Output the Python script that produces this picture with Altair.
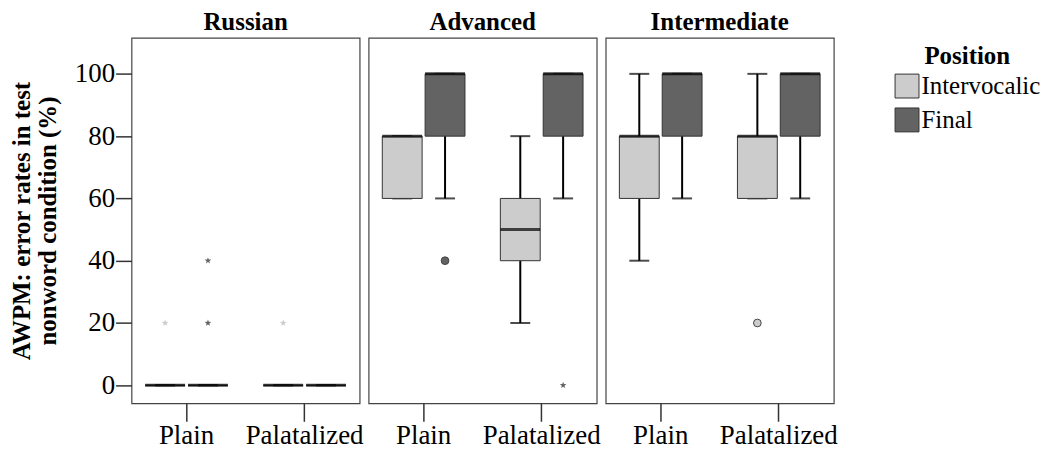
import altair as alt
import pandas as pd

groups = ["Russian", "Advanced", "Intermediate"]
conditions = ["Plain", "Palatalized"]
positions = ["Intervocalic", "Final"]
position_colors = ["#cccccc", "#636363"]

# box summaries (group x condition x position)
box_group = ["Russian"] * 4 + ["Advanced"] * 4 + ["Intermediate"] * 4
box_condition = ["Plain", "Plain", "Palatalized", "Palatalized"] * 3
box_position = ["Intervocalic", "Final"] * 6
whisker_low = [0, 0, 0, 0, 60, 60, 20, 60, 40, 60, 60, 60]
q1 = [0, 0, 0, 0, 60, 80, 40, 80, 60, 80, 60, 80]
median = [0, 0, 0, 0, 80, 100, 50, 100, 80, 100, 80, 100]
q3 = [0, 0, 0, 0, 80, 100, 60, 100, 80, 100, 80, 100]
whisker_high = [0, 0, 0, 0, 80, 100, 80, 100, 100, 100, 100, 100]

# outliers (circles) and extremes (stars)
outlier_group = ["Russian", "Russian", "Russian", "Russian", "Advanced", "Advanced", "Intermediate"]
outlier_condition = ["Plain", "Plain", "Plain", "Palatalized", "Plain", "Palatalized", "Palatalized"]
outlier_position = ["Intervocalic", "Final", "Final", "Intervocalic", "Final", "Final", "Intervocalic"]
outlier_value = [20, 20, 40, 20, 40, 0, 20]
outlier_kind = ["extreme", "extreme", "extreme", "extreme", "outlier", "extreme", "outlier"]

boxes = pd.DataFrame({
    "group": box_group, "condition": box_condition, "position": box_position,
    "lo": whisker_low, "q1": q1, "median": median, "q3": q3, "hi": whisker_high,
})
outliers = pd.DataFrame({
    "group": outlier_group, "condition": outlier_condition, "position": outlier_position,
    "value": outlier_value, "kind": outlier_kind,
})

STAR = ("M0,-1L0.235,-0.324L0.951,-0.309L0.38,0.124L0.588,0.809L0,0.4"
        "L-0.588,0.809L-0.38,0.124L-0.951,-0.309L-0.235,-0.324Z")

FONT = "Liberation Serif"
Y_DOMAIN = [-5.8, 111.6]
W, H = 229, 367


def panel(g, first):
    bdf = boxes[boxes["group"] == g]
    odf = outliers[outliers["group"] == g]
    x = alt.X("condition:N", sort=conditions,
              scale=alt.Scale(paddingInner=0.2, paddingOuter=0.066),
              axis=alt.Axis(title=None, labelAngle=0, tickSize=18, tickColor="#333",
                            tickWidth=1.5, domain=False, labelFontSize=27,
                            labelPadding=1, labelColor="black", labelFont=FONT))
    xo = alt.XOffset("position:N", sort=positions,
                     scale=alt.Scale(paddingInner=0.07, paddingOuter=0.1375))
    yscale = alt.Scale(domain=Y_DOMAIN, nice=False, zero=False)
    if first:
        yaxis = alt.Axis(title=["AWPM: error rates in test", "nonword condition (%)"],
                         values=[0, 20, 40, 60, 80, 100], tickSize=16, tickColor="#333",
                         tickWidth=1.5, domain=False, grid=False, labelFontSize=27,
                         labelPadding=1, labelColor="black", labelFont=FONT,
                         titleFontSize=25, titleFont=FONT, titleFontWeight="bold",
                         titleColor="black", titlePadding=14, titleLineHeight=26)
    else:
        yaxis = None
    color_scale = alt.Scale(domain=positions, range=position_colors)

    base_b = alt.Chart(bdf)
    whisk = base_b.mark_rule(color="black", strokeWidth=2).encode(
        x=x, xOffset=xo, y=alt.Y("lo:Q", scale=yscale, axis=yaxis), y2="hi:Q")
    cap_lo = base_b.mark_tick(color="black", size=20, thickness=2).encode(
        x=x, xOffset=xo, y=alt.Y("lo:Q", scale=yscale, axis=yaxis))
    cap_hi = base_b.mark_tick(color="black", size=20, thickness=2).encode(
        x=x, xOffset=xo, y=alt.Y("hi:Q", scale=yscale, axis=yaxis))
    box = base_b.mark_bar(stroke="#333", strokeWidth=1, width=40).encode(
        x=x, xOffset=xo, y=alt.Y("q1:Q", scale=yscale, axis=yaxis), y2="q3:Q",
        color=alt.Color("position:N", sort=positions, scale=color_scale,
                        legend=alt.Legend(title="Position")))
    med = base_b.mark_tick(color="black", size=40, thickness=3).encode(
        x=x, xOffset=xo, y=alt.Y("median:Q", scale=yscale, axis=yaxis))

    base_o = alt.Chart(odf)
    circ = base_o.transform_filter(alt.datum.kind == "outlier").mark_point(
        shape="circle", filled=True, size=60, stroke="#444", strokeWidth=1, opacity=1
    ).encode(x=x, xOffset=xo, y=alt.Y("value:Q", scale=yscale, axis=yaxis),
             color=alt.Color("position:N", sort=positions, scale=color_scale, legend=None))
    star = base_o.transform_filter(alt.datum.kind == "extreme").mark_point(
        shape=STAR, filled=True, size=50, opacity=1
    ).encode(x=x, xOffset=xo, y=alt.Y("value:Q", scale=yscale, axis=yaxis),
             color=alt.Color("position:N", sort=positions, scale=color_scale, legend=None))

    return alt.layer(whisk, cap_lo, cap_hi, box, med, circ, star).properties(
        width=W, height=H,
        title=alt.TitleParams(g, fontSize=25, font=FONT, fontWeight="bold",
                              color="black", anchor="middle", offset=3))


chart = alt.hconcat(
    *[panel(g, i == 0) for i, g in enumerate(groups)], spacing=9, bounds="flush"
).properties(
    padding={"left": 0, "top": 0, "right": 0, "bottom": 0}
).configure(
    font=FONT, background="white"
).configure_view(
    stroke="#444", strokeWidth=1.2
).configure_legend(
    orient="none", legendX=766, legendY=6, padding=0, titleFont=FONT, titleFontSize=25,
    titleFontWeight="bold", titleColor="black", titleAnchor="middle", titlePadding=5,
    labelFont=FONT, labelFontSize=25, labelColor="black", labelOffset=2,
    symbolType="square", symbolSize=576, symbolStrokeColor="#333",
    symbolStrokeWidth=1, rowPadding=5, labelLimit=300
)

chart.save("out.html", embed_options={"renderer": "svg", "actions": False})
